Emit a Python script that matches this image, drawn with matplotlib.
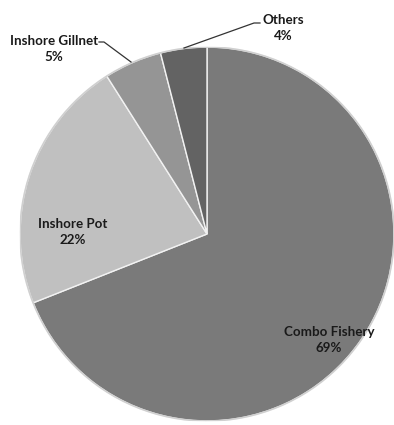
import matplotlib
matplotlib.use("Agg")
import matplotlib.pyplot as plt

# Fishery share of catch
categories = ["Combo Fishery", "Inshore Pot", "Inshore Gillnet", "Others"]
shares = [69, 22, 5, 4]
colors = ["#7a7a7a", "#c0c0c0", "#959595", "#636363"]

W, H = 394, 425
cx, cy, r = 207, 234, 187  # pie centre / radius in pixels

fig = plt.figure(figsize=(W / 100, H / 100), dpi=100)
ax = fig.add_axes([(cx - r) / W, (H - cy - r) / H, 2 * r / W, 2 * r / H])
ax.pie(shares, colors=colors, startangle=90, counterclock=False,
       wedgeprops=dict(edgecolor="#f2f2f2", linewidth=1.0))
ax.add_patch(plt.Circle((0, 0), 1.0, fill=False, ec="#d0d0d0", lw=1.2))
ax.set_xlim(-1, 1)
ax.set_ylim(-1, 1)
ax.set_aspect("equal")
ax.axis("off")


def px(x, y):
    # pixel position -> data coords
    return ((x - cx) / r, (cy - y) / r)


font = dict(family=["Lato", "DejaVu Sans"], fontsize=9.6, fontweight="bold",
            color="#1a1a1a", ha="center", va="center", linespacing=1.45)

label_pos = [(329, 340), (73, 232), (54, 49), (283, 28)]
for name, val, (x, y) in zip(categories, shares, label_pos):
    ax.text(*px(x, y), f"{name}\n{val}%", **font)

# leader lines
g = [px(99, 42), px(104, 42), px(131, 62)]
ax.plot([p[0] for p in g], [p[1] for p in g], color="#333333", lw=0.9, clip_on=False)
o = [px(260, 23), px(254, 23), px(184, 48)]
ax.plot([p[0] for p in o], [p[1] for p in o], color="#333333", lw=0.9, clip_on=False)

fig.savefig("out.png", dpi=100)
